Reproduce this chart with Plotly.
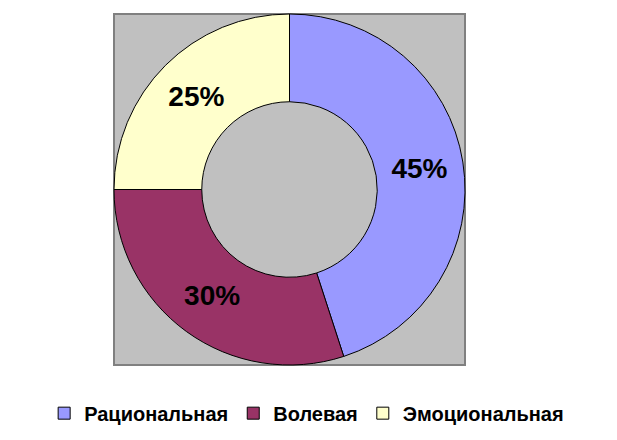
import plotly.graph_objects as go

labels = ["Рациональная", "Волевая", "Эмоциональная"]
values = [45, 30, 25]
colors = ["#9999FF", "#993366", "#FFFFCC"]

W, H = 617, 440
box_x = [114 / W, 465 / W]
box_y = [0.0, 1.0]

fig = go.Figure(go.Pie(
    labels=labels,
    values=values,
    hole=0.5,
    sort=False,
    direction="clockwise",
    rotation=0,
    domain=dict(x=box_x, y=box_y),
    marker=dict(colors=colors, line=dict(color="black", width=1)),
    texttemplate="%{percent:.0%}",
    textposition="inside",
    insidetextorientation="horizontal",
    textfont=dict(family="Liberation Sans, Arial", size=28, color="black", weight="bold"),
    hoverinfo="skip",
))

fig.update_layout(
    width=W, height=H,
    margin=dict(l=0, r=0, t=14, b=75),
    paper_bgcolor="white",
    showlegend=True,
    legend=dict(
        orientation="h",
        xref="container", yref="container",
        x=0.497, xanchor="center",
        y=0.061, yanchor="middle",
        font=dict(family="Liberation Sans, Arial", size=20, color="black", weight="bold"),
        itemclick=False, itemdoubleclick=False,
    ),
    shapes=[dict(type="rect", xref="paper", yref="paper",
                 x0=box_x[0], x1=box_x[1], y0=box_y[0], y1=box_y[1],
                 fillcolor="#C0C0C0", line=dict(color="#808080", width=2), layer="below")],
)

fig.write_html("out.html", config={"displayModeBar": False},
               post_script="document.body.style.margin='0';")
